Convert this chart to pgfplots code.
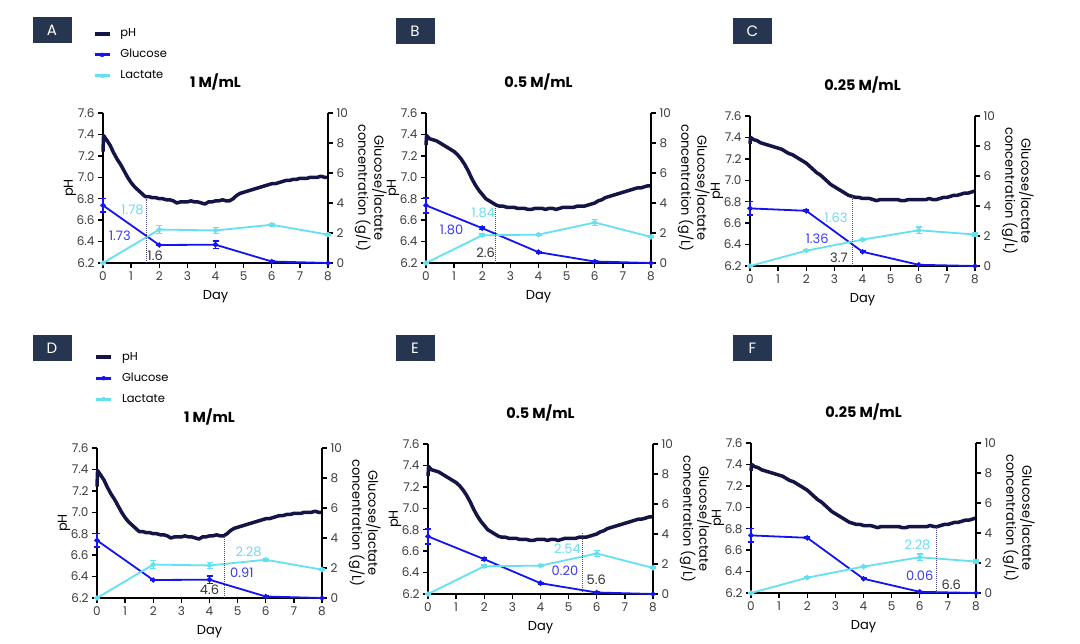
\documentclass[border=0pt]{standalone}
\usepackage{pgfplots}
\pgfplotsset{compat=1.18}
\usepackage{pgfplotstable}
\usepackage{fontspec}
\setmainfont{Poppins}

\definecolor{phc}{RGB}{20,20,70}
\definecolor{gluc}{RGB}{20,20,240}
\definecolor{lac}{RGB}{100,225,240}
\definecolor{lacT}{RGB}{110,220,240}
\definecolor{glucT}{RGB}{60,60,240}
\definecolor{boxc}{RGB}{38,54,80}
\definecolor{tickc}{RGB}{60,60,60}
\definecolor{dotc}{RGB}{70,70,130}

\newcommand\tk{\fontsize{12}{14}\selectfont}
\newcommand\lab{\fontsize{13}{16}\selectfont}
\newcommand\ann{\fontsize{13}{15}\selectfont}

\pgfplotstableread{
d p
0 7.24
0.02 7.39
0.125 7.35
0.25 7.30
0.375 7.23
0.5 7.17
0.625 7.12
0.75 7.06
0.875 7.00
1.0 6.95
1.125 6.91
1.25 6.88
1.375 6.85
1.5 6.82
1.625 6.82
1.75 6.81
1.875 6.81
2.0 6.80
2.125 6.80
2.25 6.79
2.375 6.79
2.5 6.78
2.625 6.76
2.75 6.77
2.875 6.77
3.0 6.77
3.125 6.78
3.25 6.77
3.375 6.77
3.5 6.76
3.625 6.75
3.75 6.77
3.875 6.77
4.0 6.78
4.125 6.78
4.25 6.79
4.375 6.78
4.5 6.78
4.625 6.80
4.75 6.83
4.875 6.85
5.0 6.86
5.125 6.87
5.25 6.88
5.375 6.89
5.5 6.90
5.625 6.91
5.75 6.92
5.875 6.93
6.0 6.94
6.125 6.94
6.25 6.95
6.375 6.96
6.5 6.97
6.625 6.97
6.75 6.98
6.875 6.98
7.0 6.99
7.125 6.99
7.25 6.99
7.375 7.00
7.5 7.00
7.625 7.00
7.75 7.01
7.875 7.00
8.0 7.00
}\phA

\pgfplotstableread{
d p
0 7.30
0.02 7.39
0.125 7.36
0.25 7.35
0.375 7.34
0.5 7.32
0.625 7.30
0.75 7.28
0.875 7.26
1.0 7.24
1.125 7.21
1.25 7.17
1.375 7.12
1.5 7.06
1.625 6.99
1.75 6.93
1.875 6.88
2.0 6.84
2.125 6.80
2.25 6.78
2.375 6.76
2.5 6.74
2.625 6.73
2.75 6.73
2.875 6.72
3.0 6.72
3.125 6.72
3.25 6.71
3.375 6.71
3.5 6.71
3.625 6.70
3.75 6.70
3.875 6.71
4.0 6.71
4.125 6.71
4.25 6.70
4.375 6.71
4.5 6.71
4.625 6.70
4.75 6.71
4.875 6.72
5.0 6.72
5.125 6.72
5.25 6.72
5.375 6.73
5.5 6.73
5.625 6.73
5.75 6.74
5.875 6.75
6.0 6.76
6.125 6.78
6.25 6.79
6.375 6.81
6.5 6.82
6.625 6.83
6.75 6.84
6.875 6.85
7.0 6.86
7.125 6.87
7.25 6.88
7.375 6.89
7.5 6.90
7.625 6.90
7.75 6.91
7.875 6.92
8.0 6.92
}\phB

\pgfplotstableread{
d p
0 7.34
0.02 7.40
0.125 7.38
0.25 7.37
0.375 7.35
0.5 7.34
0.625 7.33
0.75 7.32
0.875 7.31
1.0 7.30
1.125 7.29
1.25 7.27
1.375 7.25
1.5 7.24
1.625 7.22
1.75 7.20
1.875 7.18
2.0 7.16
2.125 7.13
2.25 7.10
2.375 7.07
2.5 7.05
2.625 7.02
2.75 6.99
2.875 6.96
3.0 6.94
3.125 6.92
3.25 6.90
3.375 6.88
3.5 6.86
3.625 6.85
3.75 6.84
3.875 6.84
4.0 6.83
4.125 6.83
4.25 6.83
4.375 6.82
4.5 6.81
4.625 6.82
4.75 6.82
4.875 6.82
5.0 6.82
5.125 6.82
5.25 6.82
5.375 6.81
5.5 6.81
5.625 6.82
5.75 6.82
5.875 6.82
6.0 6.82
6.125 6.82
6.25 6.82
6.375 6.83
6.5 6.82
6.625 6.82
6.75 6.83
6.875 6.84
7.0 6.84
7.125 6.85
7.25 6.86
7.375 6.86
7.5 6.87
7.625 6.88
7.75 6.88
7.875 6.89
8.0 6.90
}\phC

\pgfplotstableread{
d v e
0 3.84 0.45
2 1.20 0.05
4 1.22 0.25
6 0.10 0.03
8 0.00 0.00
}\gluA
\pgfplotstableread{
d v e
0 0.00 0.00
2 2.23 0.27
4 2.17 0.20
6 2.55 0.08
8 1.89 0.05
}\lacA
\pgfplotstableread{
d v e
0 3.84 0.50
2 2.32 0.08
4 0.72 0.05
6 0.10 0.03
8 0.00 0.00
}\gluB
\pgfplotstableread{
d v e
0 0.00 0.00
2 1.85 0.08
4 1.89 0.05
6 2.70 0.20
8 1.74 0.05
}\lacB
\pgfplotstableread{
d v e
0 3.84 0.45
2 3.68 0.05
4 0.95 0.05
6 0.08 0.03
8 0.00 0.00
}\gluC
\pgfplotstableread{
d v e
0 0.00 0.00
2 1.02 0.05
4 1.76 0.05
6 2.38 0.22
8 2.10 0.10
}\lacC

\pgfplotsset{
  base/.style={scale only axis, width=225pt, height=150pt, anchor=south west,
    xmin=0, xmax=8, clip=false,
    axis line style={line width=1.6pt, black},
    tick style={line width=1.4pt, black},
    major tick length=5pt, tick align=outside,
    ticklabel style={font=\tk, text=tickc},
    /pgf/number format/assume math mode=true,
    xtick={0,1,2,3,4,5,6,7,8}},
  legstyle/.style={},
  eb/.style={error bars/.cd, y dir=both, y explicit,
    error bar style={line width=1.4pt}, error mark options={rotate=90, mark size=3pt, line width=1.4pt}},
  legcommon/.style={legend entries={pH,Glucose,Lactate},
    legend cell align=left,
    legend image code/.code={\draw[mark repeat=2, mark phase=2, ##1] plot coordinates {(0pt,0pt) (7.5pt,0pt) (15pt,0pt)};
      \path (23pt,0pt);},
    legend style={anchor=north west, draw=none, fill=none,
      font=\fontsize{11.5}{13}\selectfont, row sep=8pt, inner sep=0pt,
      nodes={text height=8.5pt, text depth=2.5pt, inner sep=1pt}}},
}

\newcommand{\panel}[9]{%
\begin{axis}[base, at={(#1pt,#2pt)}, ymin=6.2, ymax=7.6,
  ytick={6.2,6.4,6.6,6.8,7.0,7.2,7.4,7.6},
  y tick label style={/pgf/number format/.cd, fixed, fixed zerofill, precision=1, /tikz/.cd},
  axis x line*=bottom, axis y line*=left,
  title={#6}, title style={at={(axis description cs:0.5,1)}, anchor=center, yshift=25pt, font=\bfseries\fontsize{14.5}{16}\selectfont},
  xlabel={Day}, xlabel style={at={(axis description cs:0.5,0)}, anchor=center, yshift=-34pt, font=\lab}]
\addplot[phc, line width=3.5pt, line join=round] table[x=d,y=p]{#3};
\node[rotate=90, font=\lab] at (axis description cs:-0.1467,0.5) {pH};
\end{axis}
\begin{axis}[base, at={(#1pt,#2pt)}, ymin=0, ymax=10, ytick={0,2,4,6,8,10},
  axis y line*=right, axis x line=none, legstyle]
\addlegendimage{phc, line width=3.5pt}
\addlegendimage{gluc, line width=3pt, mark=*, mark size=2pt, mark options={line width=0.4pt}}
\addlegendimage{lac, line width=3pt, mark=*, mark size=2pt, mark options={line width=0.4pt}}
\addplot[forget plot, gluc, line width=1.8pt, mark=*, mark size=1.7pt, eb] table[x=d,y=v,y error=e]{#4};
\addplot[forget plot, lac, line width=1.8pt, mark=*, mark size=1.7pt, eb] table[x=d,y=v,y error=e]{#5};
\addplot[forget plot, dotc, densely dotted, line width=1pt] coordinates {(#7,0) (#7,#8)};
\node[rotate=-90, align=center, font=\lab] at (axis description cs:1.19,0.5) {Glucose/lactate\\concentration (g/L)};
#9
\end{axis}}

\newcommand{\lbox}[3]{\node[fill=boxc, text=white, minimum width=39pt, minimum height=26pt, inner sep=0pt, font=\fontsize{15}{17}\selectfont] at (#1pt,#2pt) {#3};}

\begin{document}
\begin{tikzpicture}
\useasboundingbox (0,0) rectangle (1080pt,-644pt);
\fill[white] (0,0) rectangle (1080pt,-644pt);

\lbox{52}{-30.5}{A}
\lbox{415}{-31.5}{B}
\lbox{752.5}{-31.5}{C}
\lbox{52}{-348.5}{D}
\lbox{415}{-348.5}{E}
\lbox{752.5}{-348.5}{F}

\pgfplotsset{legstyle/.style={legcommon, legend style={at={(axis description cs:-0.046,1.572)}}}}
\panel{103}{-263}{\phA}{\gluA}{\lacA}{1 M/mL}{1.54}{4.29}{%
  \node[font=\ann, text=lacT] at (axis cs:1.05,3.57) {1.78};
  \node[font=\ann, text=glucT] at (axis cs:0.6,1.79) {1.73};
  \node[font=\ann, text=black!80] at (axis cs:1.86,0.5) {1.6};}
\pgfplotsset{legstyle/.style={}}
\panel{426}{-263}{\phB}{\gluB}{\lacB}{0.5 M/mL}{2.48}{3.86}{%
  \node[font=\ann, text=lacT] at (axis cs:2.04,3.35) {1.84};
  \node[font=\ann, text=glucT] at (axis cs:0.91,2.23) {1.80};
  \node[font=\ann, text=black!80] at (axis cs:2.12,0.71) {2.6};}
\panel{750}{-266}{\phC}{\gluC}{\lacC}{0.25 M/mL}{3.65}{4.69}{%
  \node[font=\ann, text=lacT] at (axis cs:3.06,3.24) {1.63};
  \node[font=\ann, text=glucT] at (axis cs:2.39,1.85) {1.36};
  \node[font=\ann, text=black!80] at (axis cs:3.16,0.56) {3.7};}

\pgfplotsset{legstyle/.style={legcommon, legend style={at={(axis description cs:-0.012,1.65)}}}}
\panel{97}{-598}{\phA}{\gluA}{\lacA}{1 M/mL}{4.54}{4.16}{%
  \node[font=\ann, text=lacT] at (axis cs:5.39,3.11) {2.28};
  \node[font=\ann, text=glucT] at (axis cs:5.15,1.67) {0.91};
  \node[font=\ann, text=black!80] at (axis cs:4.0,0.53) {4.6};}
\pgfplotsset{legstyle/.style={}}
\panel{428}{-594}{\phB}{\gluB}{\lacB}{0.5 M/mL}{5.49}{4.04}{%
  \node[font=\ann, text=lacT] at (axis cs:4.96,3.04) {2.54};
  \node[font=\ann, text=glucT] at (axis cs:4.87,1.56) {0.20};
  \node[font=\ann, text=black!80] at (axis cs:5.98,0.98) {5.6};}
\panel{751}{-593}{\phC}{\gluC}{\lacC}{0.25 M/mL}{6.61}{4.42}{%
  \node[font=\ann, text=lacT] at (axis cs:5.92,3.2) {2.28};
  \node[font=\ann, text=glucT] at (axis cs:6.0,1.16) {0.06};
  \node[font=\ann, text=black!80] at (axis cs:7.12,0.52) {6.6};}
\end{tikzpicture}
\end{document}
